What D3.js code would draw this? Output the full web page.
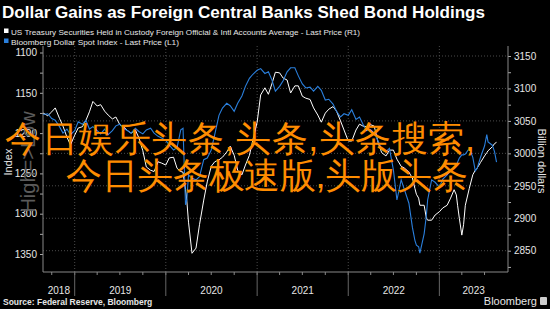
<!DOCTYPE html>
<html><head><meta charset="utf-8">
<script src="https://cdn.jsdelivr.net/npm/d3@7"></script>
<style>
html,body{margin:0;padding:0;background:#000;}
svg{display:block;}
text{font-family:"Liberation Sans",Arial,sans-serif;}
</style></head>
<body>
<svg id="chart" width="550" height="309"></svg>
<script>
const dates = ["2018-08-28","2018-09-15","2018-10-01","2018-10-15","2018-11-01","2018-11-15","2018-12-01","2018-12-15",
"2019-01-01","2019-01-15","2019-02-01","2019-02-15","2019-03-01","2019-03-15","2019-04-01","2019-04-15","2019-05-01","2019-05-15","2019-06-01","2019-06-15","2019-07-01","2019-07-15","2019-08-01","2019-08-15","2019-09-01","2019-09-15","2019-10-01","2019-10-15","2019-11-01","2019-11-15","2019-12-01","2019-12-15",
"2020-01-01","2020-01-15","2020-02-01","2020-02-15","2020-03-01","2020-03-10","2020-03-20","2020-03-25","2020-04-01","2020-04-15","2020-05-01","2020-05-15","2020-06-01","2020-06-15","2020-07-01","2020-07-15","2020-08-01","2020-08-15","2020-09-01","2020-09-15","2020-10-01","2020-10-15","2020-11-01","2020-11-15","2020-12-01","2020-12-15",
"2021-01-01","2021-01-15","2021-02-01","2021-02-15","2021-03-01","2021-03-15","2021-04-01","2021-04-15","2021-05-01","2021-05-15","2021-06-01","2021-06-15","2021-07-01","2021-07-15","2021-08-01","2021-08-15","2021-09-01","2021-09-15","2021-10-01","2021-10-15","2021-11-01","2021-11-15","2021-12-01","2021-12-15",
"2022-01-01","2022-01-15","2022-02-01","2022-02-15","2022-03-01","2022-03-15","2022-04-01","2022-04-15","2022-05-01","2022-05-15","2022-06-01","2022-06-15","2022-07-01","2022-07-15","2022-08-01","2022-08-15","2022-09-01","2022-09-15","2022-09-25","2022-10-01","2022-10-10","2022-10-15","2022-11-01","2022-11-10","2022-11-15","2022-12-01","2022-12-15",
"2023-01-01","2023-01-15","2023-02-01","2023-02-15","2023-03-01","2023-03-10","2023-03-15","2023-03-22","2023-04-01","2023-04-08","2023-04-15","2023-05-01","2023-05-15","2023-05-25","2023-06-01","2023-06-15","2023-07-01","2023-07-10","2023-07-15","2023-08-01","2023-08-10","2023-08-18"];

// Bloomberg Dollar Spot Index (L1, inverted axis)
const dollarIndex = [1177,1176,1182,1184,1192,1200,1195,1202,
1197,1186,1189,1184,1195,1192,1197,1201,1195,1202,1197,1191,1189,1194,1197,1200,1194,1198,1201,1196,1194,1200,1204,1206,
1209,1215,1221,1218,1196,1194,1289,1283,1252,1256,1258,1254,1233,1231,1221,1202,1178,1169,1163,1166,1173,1163,1154,1142,1132,1127,
1122,1120,1126,1124,1134,1148,1142,1135,1124,1119,1119,1129,1139,1144,1143,1148,1142,1147,1159,1158,1164,1173,1180,1176,
1178,1171,1183,1180,1189,1197,1196,1200,1210,1221,1223,1219,1246,1283,1258,1271,1287,1317,1333,1339,1341,1349,1325,1302,1283,1258,1261,
1267,1257,1252,1245,1243,1240,1236,1231,1227,1227,1226,1219,1230,1247,1244,1230,1216,1202,1211,1215,1223,1236];

// US Treasury securities held in custody for foreign official & intl accounts (R1, billion dollars)
const treasuryHoldings = [3062,3058,3064,3070,3054,3042,3025,3013,
3028,3039,3041,3051,3064,3080,3073,3075,3065,3059,3053,3056,3044,3041,3035,3031,3036,3024,3004,2979,2974,2972,2987,2985,
2982,2993,2994,2977,2972,2971,2944,2928,2894,2846,2854,2890,2928,2956,2980,2987,2990,2994,3002,3011,2997,2974,2967,2982,2997,3021,
3048,3090,3101,3091,3107,3125,3124,3116,3113,3093,3104,3104,3088,3085,3083,3070,3059,3048,3062,3068,3072,3065,3050,3036,
3019,3019,3036,3045,3042,3041,3044,3042,3016,3001,2996,3005,3005,2991,2980,2977,2971,2962,2946,2937,2931,2920,2920,2900,2897,2897,2905,
2910,2916,2920,2931,2944,2936,2920,2900,2874,2890,2920,2946,2967,2974,2977,2986,2996,3001,3004,3010,3015,3017];

const leftTicks = [1100,1150,1200,1250,1300,1350];
const rightTicks = [2850,2900,2950,3000,3050,3100,3150];
const yearLabels = ["2018","2019","2020","2021","2022","2023"];

const title = "Dollar Gains as Foreign Central Banks Shed Bond Holdings";
const legendItems = ["US Treasury Securities Held in Custody Foreign Official & Intl Accounts Average - Last Price (R1)",
                     "Bloomberg Dollar Spot Index - Last Price (L1)"];
const overlayLines = ["今日娱乐头条,头条,头条搜索,", "今日头条极速版,头版头条"];

const parse = d3.timeParse("%Y-%m-%d");
const svg = d3.select("#chart");
const W = 550, H = 309;
const PL = 43, PR = 508, PT = 46, PB = 272;

svg.append("rect").attr("width", W).attr("height", H).attr("fill", "#000");

const x = d3.scaleTime().domain([parse("2018-08-27"), parse("2023-10-03")]).range([PL, PR]);
const yL = d3.scaleLinear().domain([1100, 1350]).range([52.5, 254]);
const yR = d3.scaleLinear().domain([2850, 3150]).range([250.7, 56]);

// title & legend
svg.append("text").attr("x", 2).attr("y", 18).attr("fill", "#fff")
  .attr("font-size", 16).attr("font-weight", "bold")
  .attr("textLength", 483).attr("lengthAdjust", "spacingAndGlyphs").text(title);
const legColors = ["#ffffff", "#2a7fdc"];
legendItems.forEach((t, i) => {
  const ly = 32 + i * 10;
  svg.append("rect").attr("x", 4).attr("y", ly - 3.5).attr("width", 4.5).attr("height", 4.5).attr("fill", legColors[i]);
  svg.append("text").attr("x", 11).attr("y", ly + 2.5).attr("fill", "#e6e6e6").attr("font-size", 8)
    .attr("textLength", i === 0 ? 349 : 168).attr("lengthAdjust", "spacingAndGlyphs").text(t);
});

// gridlines
const g = svg.append("g");
g.selectAll(".hg").data(rightTicks).join("line")
  .attr("x1", PL).attr("x2", PR).attr("y1", d => yR(d)).attr("y2", d => yR(d))
  .attr("stroke", "#4a4a4a").attr("stroke-width", 1).attr("stroke-dasharray", "1,2");
const years = [2019, 2020, 2021, 2022, 2023].map(yv => new Date(yv, 0, 1));
g.selectAll(".vg").data(years).join("line")
  .attr("x1", d => x(d)).attr("x2", d => x(d)).attr("y1", PT).attr("y2", PB)
  .attr("stroke", "#4a4a4a").attr("stroke-width", 1).attr("stroke-dasharray", "1,2");

// axes
const leftAxis = d3.axisLeft(yL).tickValues(d3.range(1100, 1376, 25)).tickSize(3)
  .tickFormat(d => leftTicks.includes(d) ? d : "");
const la = svg.append("g").attr("transform", `translate(${PL},0)`).call(leftAxis);
const rightAxis = d3.axisRight(yR).tickValues(d3.range(2825, 3176, 25)).tickSize(3)
  .tickFormat(d => rightTicks.includes(d) ? d : "");
const ra = svg.append("g").attr("transform", `translate(${PR},0)`).call(rightAxis);
[la, ra].forEach(a => {
  a.select(".domain").remove();
  a.selectAll("line").attr("stroke", "#aaa");
  a.selectAll("text").attr("fill", "#e6e6e6").attr("font-size", 10)
    .attr("font-family", '"Liberation Sans",Arial,sans-serif');
});
la.selectAll(".tick").filter(d => d < 1093 || d > 1372).remove();
ra.selectAll(".tick").filter(d => yR(d) < PT || yR(d) > PB).remove();
svg.append("line").attr("x1", PL).attr("x2", PL).attr("y1", PT).attr("y2", PB).attr("stroke", "#888");
svg.append("line").attr("x1", PR).attr("x2", PR).attr("y1", PT).attr("y2", PB).attr("stroke", "#888");
svg.append("line").attr("x1", PL).attr("x2", PR).attr("y1", PB).attr("y2", PB).attr("stroke", "#888");

// x axis quarter ticks, year separators, labels
const quarters = d3.timeMonth.every(3).range(parse("2018-09-01"), parse("2023-10-01"));
svg.selectAll(".qt").data(quarters).join("line")
  .attr("x1", d => x(d)).attr("x2", d => x(d)).attr("y1", PB).attr("y2", PB + 3).attr("stroke", "#888");
svg.selectAll(".ys").data(years).join("line")
  .attr("x1", d => x(d)).attr("x2", d => x(d)).attr("y1", PB).attr("y2", 296).attr("stroke", "#666");
yearLabels.forEach(lbl => {
  const yv = +lbl;
  const a = Math.max(x(new Date(yv, 0, 1)), PL), b = Math.min(x(new Date(yv + 1, 0, 1)), PR);
  svg.append("text").attr("x", (a + b) / 2).attr("y", 294).attr("text-anchor", "middle")
    .attr("fill", "#e6e6e6").attr("font-size", 10).text(lbl);
});

// axis titles & watermark
svg.append("text").attr("transform", "translate(28,162) rotate(-90)").attr("text-anchor", "middle")
  .attr("dominant-baseline", "central").attr("fill", "#5a5a5a").attr("font-size", 20).text("High=>Low");
svg.append("text").attr("transform", "translate(8,162) rotate(-90)").attr("text-anchor", "middle")
  .attr("dominant-baseline", "central").attr("fill", "#e6e6e6").attr("font-size", 11).text("Index");
svg.append("text").attr("transform", "translate(542,161) rotate(90)").attr("text-anchor", "middle")
  .attr("dominant-baseline", "central").attr("fill", "#e6e6e6").attr("font-size", 11).text("Billion dollars");

// lines
const pts = dates.map((d, i) => ({ t: parse(d), b: dollarIndex[i], w: treasuryHoldings[i] }));
svg.append("path").datum(pts).attr("fill", "none").attr("stroke", "#ffffff").attr("stroke-width", 1)
  .attr("d", d3.line().x(d => x(d.t)).y(d => yR(d.w)));
svg.append("path").datum(pts).attr("fill", "none").attr("stroke", "#2a7fdc").attr("stroke-width", 1.1)
  .attr("d", d3.line().x(d => x(d.t)).y(d => yL(d.b)));

// footer
svg.append("text").attr("x", 3).attr("y", 305).attr("fill", "#e6e6e6").attr("font-size", 8.5)
  .attr("font-weight", "bold").text("Source: Federal Reserve, Bloomberg");
svg.append("text").attr("x", 537).attr("y", 305).attr("text-anchor", "end").attr("fill", "#e6e6e6")
  .attr("font-size", 11).text("Bloomberg");
svg.append("rect").attr("x", 540).attr("y", 297).attr("width", 7).attr("height", 8).attr("rx", 1).attr("fill", "#ccc");

// orange overlay text
const ov = [{ x: 5, y: 151, len: 470 }, { x: 66, y: 188, len: 402 }];
overlayLines.forEach((t, i) => {
  svg.append("text").attr("x", ov[i].x).attr("y", ov[i].y)
    .attr("font-family", '"Noto Sans CJK SC","Noto Sans",sans-serif')
    .attr("font-size", 36).attr("font-weight", 500).attr("fill", "#ff8c00")
    .attr("textLength", ov[i].len).attr("lengthAdjust", "spacing").text(t);
});
</script>
</body></html>
